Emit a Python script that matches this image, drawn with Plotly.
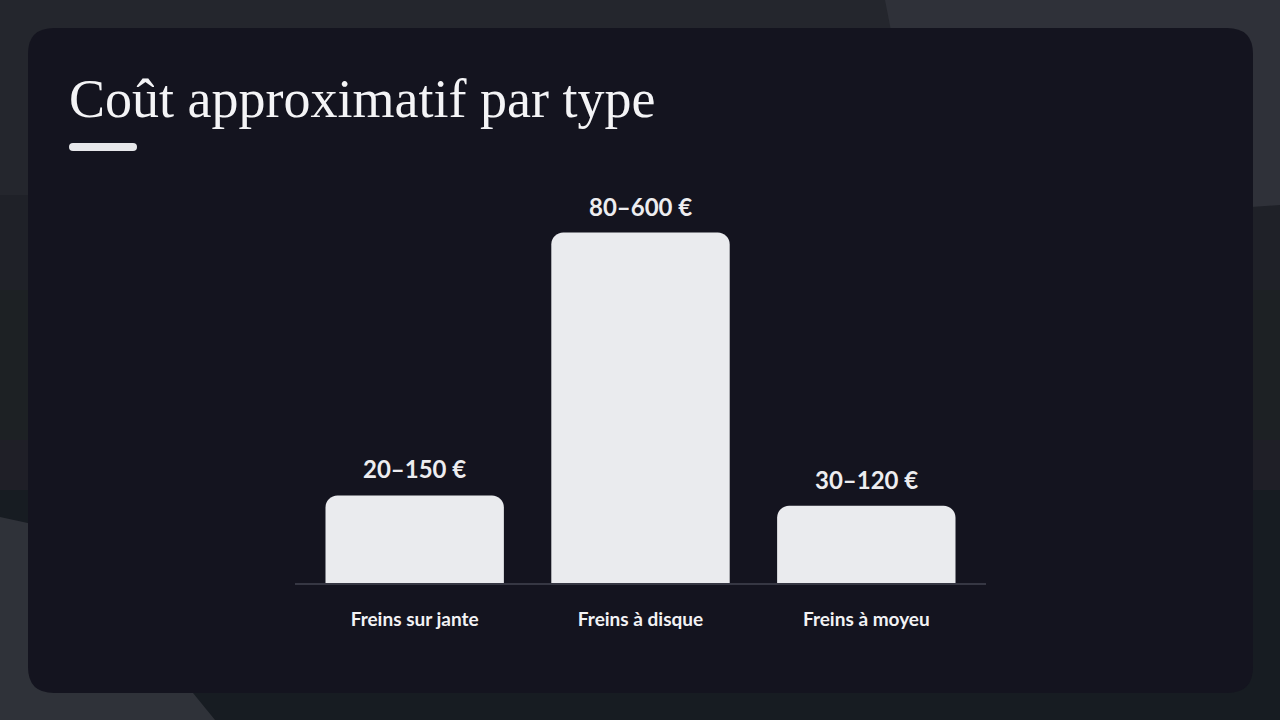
import plotly.graph_objects as go

# data
categories = ["Freins sur jante", "Freins à disque", "Freins à moyeu"]
cost_low = [20, 80, 30]
cost_high = [150, 600, 120]
# bar height = middle of the price range
cost_mid = [(lo + hi) / 2 for lo, hi in zip(cost_low, cost_high)]
range_labels = [f"{lo}–{hi} €" for lo, hi in zip(cost_low, cost_high)]

W, H = 1280, 720


def px_x(x):
    return x / W


def px_y(y):
    return 1 - y / H


def rounded_rect(x0, y0, x1, y1, r):
    # path in paper coords, corners given in pixels
    rx, ry = r / W, r / H
    X0, X1 = px_x(x0), px_x(x1)
    Y0, Y1 = px_y(y0), px_y(y1)
    return (f"M {X0 + rx} {Y0} L {X1 - rx} {Y0} Q {X1} {Y0} {X1} {Y0 - ry} "
            f"L {X1} {Y1 + ry} Q {X1} {Y1} {X1 - rx} {Y1} "
            f"L {X0 + rx} {Y1} Q {X0} {Y1} {X0} {Y1 + ry} "
            f"L {X0} {Y0 - ry} Q {X0} {Y0} {X0 + rx} {Y0} Z")


def poly(points):
    s = "M " + " L ".join(f"{px_x(x)} {px_y(y)}" for x, y in points) + " Z"
    return s


fig = go.Figure()

fig.add_trace(go.Bar(
    x=categories,
    y=cost_mid,
    width=0.79,
    marker=dict(color="#eaebee", line=dict(width=0)),
    hoverinfo="skip",
))

shapes = []
# background bands
bands = [(0, 195, "#24262d"), (195, 290, "#1f2128"), (290, 440, "#1d2124"),
         (440, 490, "#1f1f27"), (490, 720, "#171c22")]
for y0, y1, c in bands:
    shapes.append(dict(type="rect", xref="paper", yref="paper", x0=0, x1=1,
                       y0=px_y(y1), y1=px_y(y0), fillcolor=c, line_width=0,
                       layer="below"))
# lighter polygons
shapes.append(dict(type="path", xref="paper", yref="paper", layer="below",
                   path=poly([(885, 0), (1280, 0), (1280, 205), (930, 230)]),
                   fillcolor="#2f3139", line_width=0))
shapes.append(dict(type="path", xref="paper", yref="paper", layer="below",
                   path=poly([(0, 517), (60, 530), (215, 720), (0, 720)]),
                   fillcolor="#2f3239", line_width=0))
# card
shapes.append(dict(type="path", xref="paper", yref="paper", layer="below",
                   path=rounded_rect(28, 28, 1253, 693, 26),
                   fillcolor="#14141f", line_width=0))
# title underline
shapes.append(dict(type="path", xref="paper", yref="paper", layer="above",
                   path=rounded_rect(69, 143, 137, 151, 4),
                   fillcolor="#e6e7ea", line_width=0))

annotations = [dict(
    text="Coût approximatif par type", xref="paper", yref="paper",
    x=px_x(67), y=px_y(99), xanchor="left", yanchor="middle", showarrow=False,
    font=dict(family="Liberation Serif, DejaVu Serif, serif", size=54,
              color="#f4f4f6"),
)]
for cat, val, lab in zip(categories, cost_mid, range_labels):
    annotations.append(dict(
        text=lab, x=cat, y=val, xref="x", yref="y", xanchor="center",
        yanchor="bottom", yshift=10, showarrow=False,
        font=dict(family="Lato, sans-serif", size=24, color="#ededf0",
                  weight=700),
    ))

fig.update_layout(
    width=W, height=H,
    margin=dict(l=0, r=0, t=0, b=0),
    paper_bgcolor="#1d2026",
    plot_bgcolor="rgba(0,0,0,0)",
    showlegend=False,
    barcornerradius=12,
    shapes=shapes,
    annotations=annotations,
    xaxis=dict(
        domain=[px_x(295), px_x(986)],
        range=[-0.53, 2.53],
        showgrid=False, zeroline=False,
        showline=True, linecolor="#363743", linewidth=2,
        ticks="", ticklabelstandoff=18,
        tickfont=dict(family="Lato, sans-serif", size=19, color="#f2f2f4",
                      weight=700),
        fixedrange=True,
    ),
    yaxis=dict(
        domain=[px_y(583), px_y(180)],
        range=[0, 391],
        visible=False,
        fixedrange=True,
    ),
)

fig.write_html("out.html", config={"displayModeBar": False},
               post_script="document.body.style.margin='0';")
